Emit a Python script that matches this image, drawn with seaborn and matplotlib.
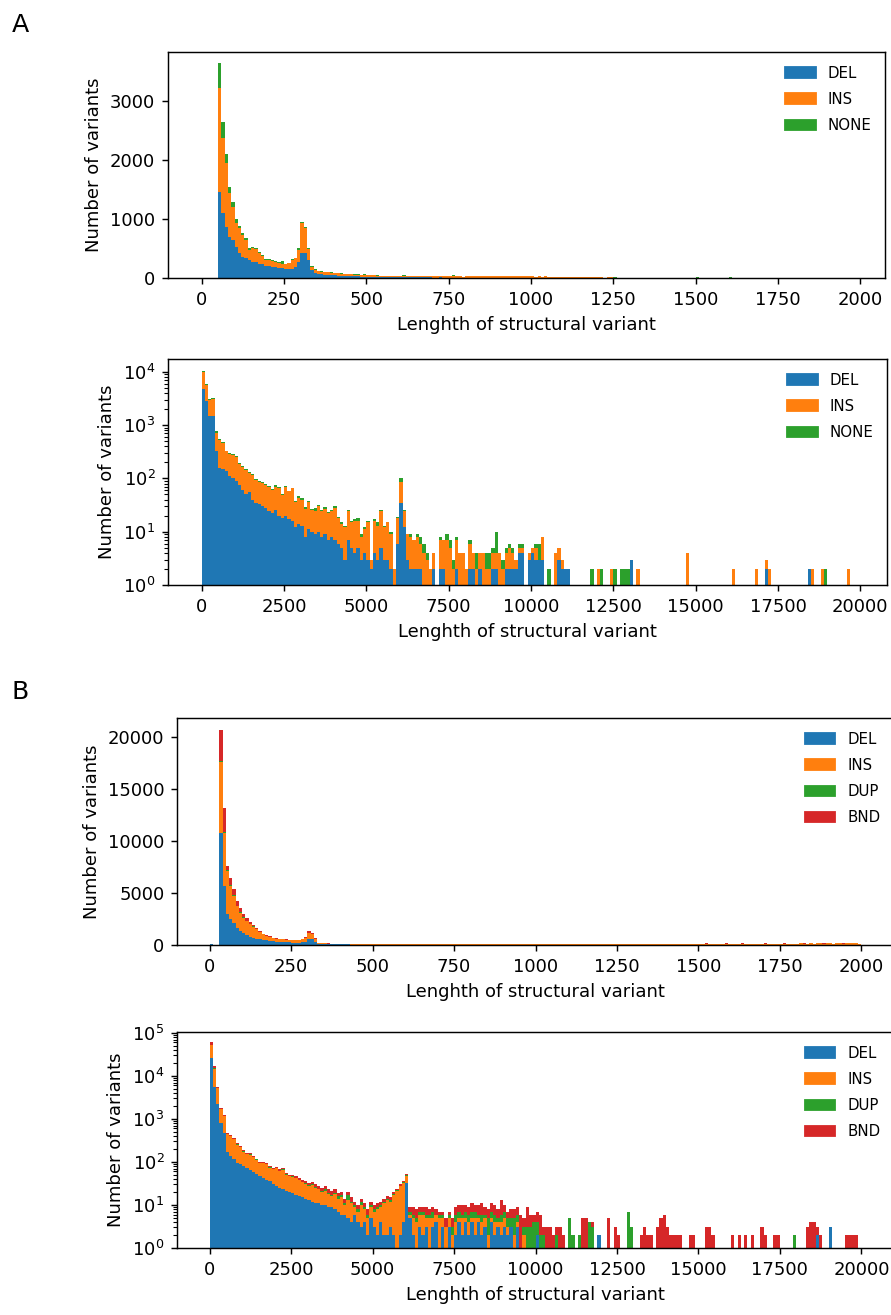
import numpy as np
import pandas as pd
import matplotlib
matplotlib.use("Agg")
import matplotlib.pyplot as plt
import seaborn as sns
from matplotlib.patches import Patch
from matplotlib.ticker import LogLocator, NullFormatter

# colours used for every SV type
colors = {"DEL": "#1f77b4", "INS": "#ff7f0e", "NONE": "#2ca02c",
          "DUP": "#2ca02c", "BND": "#d62728"}

# ---------------- Panel A, top: linear, 10 bp bins, 0-2000 (bins 5..60 dense) ----------------
a_lin_del = [1463, 1100, 870, 700, 644, 531, 418, 362, 333, 305,
             277, 277, 237, 237, 203, 203, 181, 181, 164, 164,
             147, 147, 160, 190, 277, 418, 418, 305, 136, 79,
             70, 62, 58, 52, 48, 45, 40, 38, 35, 32,
             30, 28, 27, 25, 24, 22, 21, 20, 19, 18,
             17, 16, 15, 15, 14, 13]
a_lin_ins = [1752, 1267, 1074, 735, 565, 409, 424, 367, 311, 170,
             226, 209, 181, 130, 102, 95, 109, 90, 85, 75,
             84, 102, 140, 143, 198, 508, 424, 181, 56, 57,
             49, 45, 42, 43, 40, 38, 39, 34, 35, 34,
             32, 30, 28, 27, 26, 25, 24, 23, 22, 22,
             21, 20, 19, 18, 17, 17]
a_lin_none = [425, 283, 152, 113, 85, 60, 38, 41, 36, 30,
              27, 24, 22, 17, 17, 23, 20, 25, 15, 45,
              14, 13, 25, 12, 28, 24, 28, 14, 13, 12,
              7, 8, 8, 5, 6, 7, 5, 6, 6, 6,
              4, 5, 5, 4, 12, 4, 3, 12, 3, 2,
              2, 2, 2, 2, 2, 2]
# tail, bins 61..199
a_lin_ins_tail = [26, 24, 27, 23, 25, 22, 24, 21, 23, 22,
                  21, 23, 20, 22, 19, 21, 20, 22, 19, 20,
                  24, 27, 25, 26, 23, 25, 24, 26, 23, 24,
                  25, 23, 24, 22, 24, 23, 25, 22, 23, 24,
                  22, 23, 21, 24, 22, 23, 21, 22, 23, 21,
                  22, 20, 21, 16, 9, 8, 9, 7, 8, 7,
                  8, 6, 7, 8, 6, 7, 6, 7, 5, 6,
                  6, 5, 6, 7, 5, 6, 5, 6, 5, 5,
                  5, 6, 4, 5, 5, 4, 6, 4, 5, 4,
                  4, 5, 4, 4, 5, 3, 4, 4, 3, 4,
                  4, 3, 4, 3, 4, 3, 3, 4, 3, 3,
                  3, 4, 3, 3, 2, 3, 3, 2, 3, 3,
                  2, 3, 3, 2, 3, 2, 2, 3, 2, 2,
                  2, 3, 2, 2, 2, 3, 2, 2, 2]
a_lin_del_tail = [12, 11, 12, 10, 11, 10, 9, 10, 9, 8,
                  8, 9, 7, 8, 7, 8, 6, 7, 6, 7,
                  6, 5, 6, 5, 6, 5, 4, 5, 4, 5,
                  4, 5, 4, 4, 3, 4, 3, 4, 3, 3,
                  3, 3, 2, 3, 3, 2, 3, 2, 2, 3,
                  2, 2, 3, 2, 2, 2, 1, 2, 2, 2,
                  2, 1, 2, 1, 2, 1, 2, 1, 1, 2,
                  1, 1, 2, 1, 1, 1, 1, 2, 1, 1,
                  1, 1, 1, 1, 1, 1, 0, 1, 1, 1,
                  1, 0, 1, 1, 0, 1, 1, 0, 1, 0,
                  1, 0, 1, 0, 1, 0, 1, 0, 0, 1,
                  0, 1, 0, 0, 1, 0, 0, 1, 0, 0,
                  1, 0, 0, 1, 0, 0, 1, 0, 0, 0,
                  0, 1, 0, 0, 0, 1, 0, 0, 0]
a_lin_none_tail = {61: 20, 76: 15, 118: 12, 125: 10, 150: 12, 160: 8}

# ---------------- Panel A, bottom: log, 100 bp bins, 0-20000 (bins 0..94 dense) ----------------
a_log_del = [4800, 2800, 1500, 1500, 320, 160, 150, 140, 110, 100,
             90, 75, 60, 50, 55, 40, 35, 33, 30, 28,
             24, 22, 25, 20, 18, 20, 17, 16, 12, 14,
             13, 8, 11, 10, 9, 10, 8, 9, 7, 8,
             7, 6, 5, 3, 7, 5, 4, 5, 3, 4,
             3, 2, 4, 3, 5, 3, 3, 2, 1, 6,
             35, 12, 3, 2, 2, 2, 2, 1, 1, 1,
             2, 1, 2, 2, 0, 1, 1, 2, 1, 0,
             1, 2, 2, 1, 2, 1, 0, 1, 2, 2,
             1, 0, 2, 2, 2]
a_log_ins = [5200, 2900, 1400, 1600, 400, 370, 310, 180, 175, 175,
             165, 115, 105, 95, 70, 75, 58, 54, 51, 48,
             46, 38, 45, 45, 31, 50, 40, 49, 24, 28,
             26, 19, 25, 15, 15, 20, 16, 18, 15, 16,
             21, 12, 9, 9, 17, 10, 12, 11, 5, 7,
             12, 1, 12, 10, 19, 9, 12, 7, 1, 12,
             52, 12, 6, 6, 5, 6, 4, 3, 2, 1,
             2, 0, 5, 5, 7, 4, 1, 5, 3, 4,
             1, 4, 2, 1, 2, 3, 2, 1, 2, 2,
             3, 2, 2, 3, 2]
a_log_none = [500, 300, 150, 120, 40, 20, 15, 12, 10, 9,
              8, 7, 6, 5, 5, 4, 4, 3, 3, 3,
              3, 4, 5, 4, 3, 2, 2, 2, 2, 4,
              3, 2, 2, 2, 4, 2, 1, 2, 1, 1,
              2, 1, 1, 1, 2, 1, 1, 2, 1, 1,
              1, 0, 1, 2, 1, 1, 0, 1, 0, 1,
              13, 1, 0, 1, 0, 1, 2, 2, 1, 0,
              0, 0, 1, 0, 2, 2, 1, 1, 0, 0,
              0, 1, 0, 2, 0, 0, 2, 2, 1, 6,
              0, 1, 1, 1, 1]
# sparse tail: bin -> (DEL, INS, NONE)
a_log_tail = {95: (2, 1, 0), 96: (4, 1, 1), 97: (4, 1, 1), 99: (3, 1, 0), 100: (4, 1, 0),
              101: (3, 2, 1), 102: (3, 0, 3), 103: (3, 5, 0), 105: (0, 0, 2), 107: (0, 4, 0),
              108: (3, 2, 0), 109: (2, 1, 0), 110: (2, 0, 0), 111: (2, 0, 0), 118: (0, 0, 2),
              120: (0, 2, 0), 121: (0, 0, 2), 124: (0, 2, 0), 125: (0, 0, 2), 127: (0, 0, 2),
              128: (0, 0, 2), 129: (0, 0, 2), 130: (3, 0, 0), 132: (0, 2, 0), 147: (0, 4, 0),
              161: (0, 2, 0), 168: (0, 2, 0), 171: (2, 1, 0), 172: (0, 2, 0), 184: (2, 0, 0),
              185: (0, 2, 0), 188: (0, 2, 0), 189: (0, 0, 2), 196: (0, 2, 0)}

# ---------------- Panel B, top: linear, 10 bp bins, 0-2000 (bins 3..60 dense) ----------------
b_lin_del = [10790, 5700, 2960, 2475, 2150, 1670, 1350, 1120, 925, 800,
             700, 600, 540, 470, 440, 380, 345, 310, 290, 270,
             255, 245, 235, 225, 230, 260, 330, 560, 540, 250,
             120, 90, 80, 70, 65, 60, 58, 55, 52, 50,
             47, 45, 43, 40, 38, 36, 35, 33, 32, 30,
             29, 28, 27, 26, 25, 24, 23, 22]
b_lin_ins = [6820, 5090, 4185, 3225, 2590, 2090, 1770, 1520, 1385, 1190,
             1070, 910, 710, 560, 420, 385, 325, 290, 270, 270,
             265, 255, 255, 255, 270, 300, 370, 630, 490, 350,
             95, 80, 70, 70, 67, 65, 60, 57, 54, 50,
             49, 47, 45, 44, 42, 41, 39, 38, 36, 35,
             34, 33, 32, 31, 30, 29, 28, 28]
b_lin_dup = [60, 50, 25, 30, 25, 20, 20, 15, 15, 12,
             10, 10, 8, 6, 5, 5, 4, 4, 3, 3,
             3, 3, 2, 2, 2, 3, 5, 10, 10, 4,
             2, 1, 1, 1, 1, 1, 1, 1, 1, 1,
             1, 1, 6, 1, 1, 5, 1, 1, 1, 1,
             1, 1, 1, 1, 1, 1, 1, 1]
b_lin_bnd = [3000, 2330, 410, 680, 615, 470, 460, 305, 315, 218,
             120, 120, 92, 54, 60, 60, 26, 31, 27, 22,
             22, 22, 18, 18, 18, 27, 55, 150, 150, 46,
             23, 14, 14, 9, 8, 8, 7, 7, 7, 6,
             6, 6, 5, 5, 5, 5, 4, 4, 4, 4,
             3, 3, 3, 3, 3, 3, 3, 3]
b_lin_del_first = 60  # tiny bar in the 0-10 bin
# tail, bins 61..199
b_lin_ins_tail = [95, 88, 92, 84, 90, 81, 86, 79, 83, 77,
                  80, 74, 78, 71, 76, 69, 73, 68, 71, 66,
                  70, 64, 68, 62, 66, 61, 65, 59, 63, 58,
                  62, 57, 60, 56, 59, 55, 58, 54, 57, 53,
                  56, 52, 55, 51, 54, 50, 53, 49, 52, 48,
                  58, 55, 60, 56, 61, 57, 62, 58, 63, 59,
                  64, 60, 65, 61, 66, 62, 67, 63, 68, 64,
                  69, 65, 70, 66, 71, 67, 72, 68, 73, 69,
                  74, 78, 82, 86, 92, 98, 104, 110, 103, 115,
                  108, 118, 112, 121, 109, 124, 115, 126, 118, 122,
                  128, 119, 131, 122, 127, 133, 120, 129, 136, 124,
                  131, 138, 126, 134, 140, 129, 137, 142, 131, 139,
                  144, 133, 141, 147, 136, 143, 149, 138, 146, 151,
                  140, 148, 153, 142, 150, 155, 145, 152, 139]
b_lin_del_tail = [21, 20, 19, 20, 18, 19, 17, 18, 16, 17,
                  16, 15, 16, 14, 15, 13, 14, 13, 12, 13,
                  12, 11, 12, 11, 10, 11, 10, 9, 10, 9,
                  10, 9, 8, 9, 8, 9, 22, 26, 30, 28,
                  31, 27, 33, 29, 25, 30, 27, 24, 28, 22,
                  26, 21, 24, 19, 22, 18, 20, 8, 7, 8,
                  7, 6, 7, 6, 5, 6, 5, 6, 5, 5,
                  5, 4, 5, 4, 5, 4, 4, 5, 4, 4,
                  4, 3, 4, 3, 4, 3, 3, 4, 3, 3,
                  3, 3, 2, 3, 3, 2, 3, 2, 3, 2,
                  2, 3, 2, 2, 3, 2, 2, 2, 3, 2,
                  2, 2, 2, 3, 2, 2, 2, 2, 2, 2,
                  2, 2, 1, 2, 2, 2, 1, 2, 2, 1,
                  2, 1, 2, 2, 1, 2, 1, 2, 1]
b_lin_bnd_tail = {146: 20, 152: 25, 158: 20, 163: 30, 170: 25, 176: 30, 182: 35, 188: 30, 194: 40}
b_lin_dup_tail = {100: 10, 115: 8}

# ---------------- Panel B, bottom: log, 100 bp bins, 0-20000 (bins 0..63 dense) ----------------
b_log_del = [26000, 5500, 2200, 800, 465, 170, 135, 115, 95, 88,
             80, 72, 64, 57, 52, 46, 43, 39, 36, 31,
             28, 25, 23, 21, 20, 19, 17, 16, 15, 14,
             13, 12, 11, 11, 10, 10, 9, 9, 8, 7,
             6, 6, 5, 4, 6, 4, 3, 4, 2, 5,
             3, 2, 4, 2, 2, 3, 2, 1, 2, 4,
             32, 5, 2, 1]
b_log_ins = [26500, 9300, 3000, 900, 685, 270, 260, 225, 155, 132,
             92, 78, 84, 71, 60, 49, 50, 49, 38, 37,
             44, 37, 43, 30, 26, 26, 25, 22, 19, 17,
             15, 17, 14, 12, 10, 11, 9, 7, 10, 7,
             9, 4, 8, 7, 3, 3, 7, 4, 3, 4,
             4, 6, 5, 9, 11, 9, 15, 20, 25, 28,
             16, 1, 3, 3]
b_log_dup = [200, 100, 60, 20, 20, 10, 8, 6, 5, 5,
             4, 3, 3, 3, 2, 2, 2, 2, 2, 1,
             2, 1, 2, 1, 1, 1, 1, 1, 1, 1,
             1, 1, 1, 1, 1, 2, 1, 1, 1, 2,
             2, 1, 4, 1, 1, 1, 2, 1, 1, 1,
             1, 1, 1, 1, 1, 1, 1, 1, 1, 2,
             2, 1, 1, 1]
b_log_bnd = [7400, 1700, 340, 100, 60, 30, 17, 14, 15, 10,
             9, 7, 7, 7, 6, 5, 5, 4, 4, 4,
             4, 4, 4, 4, 4, 4, 4, 4, 4, 4,
             4, 4, 4, 4, 4, 4, 4, 4, 4, 3,
             3, 3, 3, 3, 2, 2, 2, 2, 2, 2,
             2, 2, 2, 2, 2, 2, 2, 2, 2, 2,
             2, 2, 3, 3]
# sparse tail: bin -> (DEL, INS, DUP, BND)
b_log_tail = {64: (3, 3, 1, 2), 65: (2, 4, 1, 2), 66: (3, 2, 1, 3), 67: (1, 4, 1, 2),
              68: (3, 2, 2, 2), 69: (4, 2, 0, 2), 70: (1, 4, 1, 1), 71: (3, 2, 1, 1),
              72: (1, 2, 0, 2), 73: (3, 2, 1, 1), 74: (1, 1, 1, 2), 75: (2, 2, 2, 3),
              76: (4, 1, 2, 3), 77: (2, 3, 1, 4), 78: (4, 1, 2, 3), 79: (2, 2, 2, 3),
              80: (4, 1, 2, 4), 81: (2, 3, 2, 3), 82: (4, 1, 1, 4), 83: (2, 2, 2, 5),
              84: (3, 2, 1, 3), 85: (1, 1, 3, 3), 86: (4, 1, 2, 4), 87: (2, 2, 2, 4),
              88: (3, 1, 1, 3), 89: (2, 2, 2, 7), 90: (3, 2, 2, 3), 91: (2, 1, 2, 2),
              92: (3, 0, 2, 3), 93: (1, 1, 3, 3), 94: (3, 1, 2, 3), 95: (0, 0, 1, 5),
              96: (1, 1, 1, 2), 97: (1, 0, 2, 6), 98: (0, 1, 2, 3), 99: (1, 0, 3, 2),
              100: (2, 0, 2, 3), 101: (0, 0, 2, 4), 102: (1, 0, 1, 1), 103: (0, 0, 1, 2),
              104: (0, 0, 1, 2), 105: (0, 0, 1, 1), 106: (0, 0, 2, 1), 107: (0, 0, 1, 2),
              108: (0, 0, 1, 1), 109: (0, 0, 0, 1), 110: (0, 0, 5, 0), 111: (0, 0, 2, 0),
              112: (0, 0, 1, 0), 113: (0, 0, 2, 0), 114: (0, 0, 1, 4), 115: (0, 0, 1, 4),
              116: (0, 0, 4, 0), 117: (0, 0, 3, 1), 118: (1, 0, 0, 0), 119: (2, 0, 0, 0),
              122: (0, 0, 0, 5), 124: (1, 0, 0, 2), 125: (1, 0, 0, 1), 128: (0, 0, 7, 0),
              129: (0, 0, 3, 0), 132: (0, 0, 0, 2), 133: (0, 0, 0, 3), 134: (0, 0, 0, 2),
              135: (0, 0, 0, 2), 137: (0, 0, 0, 3), 138: (0, 0, 0, 5), 139: (0, 0, 0, 6),
              140: (0, 0, 0, 3), 141: (0, 0, 0, 2), 142: (0, 0, 0, 2), 143: (0, 0, 0, 2),
              144: (0, 0, 0, 2), 147: (0, 0, 0, 2), 148: (0, 0, 0, 2), 152: (1, 0, 0, 2),
              153: (0, 0, 0, 3), 154: (0, 0, 0, 2), 160: (0, 0, 0, 2), 162: (0, 0, 0, 2),
              164: (0, 0, 0, 2), 166: (0, 0, 0, 2), 169: (0, 0, 0, 3), 170: (0, 0, 0, 2),
              173: (0, 0, 0, 2), 174: (0, 0, 0, 2), 179: (0, 0, 2, 0), 183: (0, 0, 0, 3),
              184: (0, 0, 0, 4), 185: (1, 0, 0, 3), 186: (2, 0, 0, 1), 187: (0, 0, 0, 2),
              190: (3, 0, 0, 0), 191: (1, 0, 0, 0), 195: (0, 0, 0, 2), 196: (0, 0, 0, 2),
              197: (0, 0, 0, 2), 198: (0, 0, 0, 2)}

lin_edges = np.arange(0, 2001, 10)
log_edges = np.arange(0, 20001, 100)


def place(n, start, head, tail=(), sparse=None):
    c = np.zeros(n)
    c[start:start + len(head)] = head
    c[start + len(head):start + len(head) + len(tail)] = tail
    if sparse:
        for k, v in sparse.items():
            c[k] = v
    return c


def from_tail(n, start, head, tail, idx):
    c = place(n, start, head)
    for k, vals in tail.items():
        c[k] = vals[idx]
    return c


def long_frame(edges, series):
    centers = (edges[:-1] + edges[1:]) / 2
    parts = [pd.DataFrame({"length": centers, "count": c, "type": name})
             for name, c in series.items()]
    return pd.concat(parts, ignore_index=True)


n = 200

# A top
a_top = {"DEL": place(n, 5, a_lin_del, a_lin_del_tail),
         "INS": place(n, 5, a_lin_ins, a_lin_ins_tail),
         "NONE": place(n, 5, a_lin_none, sparse=a_lin_none_tail)}
# A bottom
a_bot = {"DEL": from_tail(n, 0, a_log_del, a_log_tail, 0),
         "INS": from_tail(n, 0, a_log_ins, a_log_tail, 1),
         "NONE": from_tail(n, 0, a_log_none, a_log_tail, 2)}
# B top
b_top_del = place(n, 3, b_lin_del, b_lin_del_tail)
b_top_del[0] = b_lin_del_first
b_top = {"DEL": b_top_del,
         "INS": place(n, 3, b_lin_ins, b_lin_ins_tail),
         "DUP": place(n, 3, b_lin_dup, sparse=b_lin_dup_tail),
         "BND": place(n, 3, b_lin_bnd, sparse=b_lin_bnd_tail)}
# B bottom
b_bot = {"DEL": from_tail(n, 0, b_log_del, b_log_tail, 0),
         "INS": from_tail(n, 0, b_log_ins, b_log_tail, 1),
         "DUP": from_tail(n, 0, b_log_dup, b_log_tail, 2),
         "BND": from_tail(n, 0, b_log_bnd, b_log_tail, 3)}

W, H, DPI = 891, 1315, 130
fig = plt.figure(figsize=(W / DPI, H / DPI), dpi=DPI)


def px_axes(left, top, right, bottom):
    return fig.add_axes([left / W, 1 - bottom / H, (right - left) / W, (bottom - top) / H])


specs = [
    (a_top, lin_edges, px_axes(168, 52, 885, 278), False, (-102, 2075), (0, 3830),
     np.arange(0, 2001, 250), [0, 1000, 2000, 3000]),
    (a_bot, log_edges, px_axes(168, 359, 887, 585), True, (-1020, 20810), (1, 10 ** 4.24),
     np.arange(0, 20001, 2500), None),
    (b_top, lin_edges, px_axes(177, 718, 894, 945), False, (-100, 2100), (0, 21800),
     np.arange(0, 2001, 250), [0, 5000, 10000, 15000, 20000]),
    (b_bot, log_edges, px_axes(177, 1032, 894, 1248), True, (-1000, 21000), (1, 10 ** 5.02),
     np.arange(0, 20001, 2500), None),
]

for series, edges, ax, logy, xlim, ylim, xticks, yticks in specs:
    df = long_frame(edges, series)
    types = list(series.keys())
    # seaborn stacks the first hue level on top, so reverse to put DEL at the bottom
    sns.histplot(data=df, x="length", weights="count", hue="type",
                 hue_order=types[::-1], palette=colors, bins=edges.tolist(),
                 multiple="stack", alpha=1, linewidth=0, legend=False, ax=ax)
    if logy:
        ax.set_yscale("log")
        ax.yaxis.set_major_locator(LogLocator(base=10, numticks=20))
        ax.yaxis.set_minor_locator(LogLocator(base=10, subs=np.arange(2, 10), numticks=20))
        ax.yaxis.set_minor_formatter(NullFormatter())
    ax.set_xlim(*xlim)
    ax.set_ylim(*ylim)
    ax.set_xticks(xticks)
    if yticks is not None:
        ax.set_yticks(yticks)
    ax.set_xlabel("Lenghth of structural variant")
    ax.set_ylabel("Number of variants")
    handles = [Patch(color=colors[t]) for t in types]
    ax.legend(handles, types, loc="upper right", frameon=False, fontsize="small",
              labelspacing=0.75)

fig.text(12 / W, 1 - 25 / H, "A", fontsize=14, va="center", ha="left")
fig.text(12 / W, 1 - 692 / H, "B", fontsize=14, va="center", ha="left")

fig.savefig("out.png", dpi=DPI)
